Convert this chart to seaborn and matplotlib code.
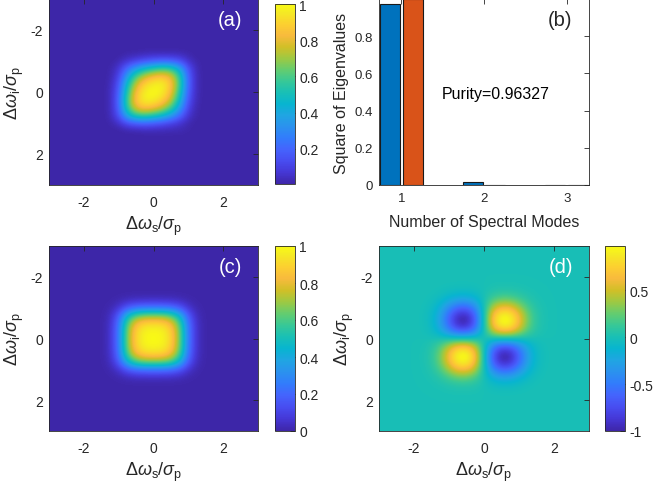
import numpy as np
import pandas as pd
import matplotlib
matplotlib.use('Agg')
import matplotlib.pyplot as plt
from matplotlib.colors import LinearSegmentedColormap
import seaborn as sns

# --- Data ---
# frequency grid (units of sigma_p), 0.25 step
omega = np.arange(-3, 3.001, 0.25)

# (a) joint spectral intensity near the centre, rows = idler -1.25..1.25, cols = signal -1.25..1.25
jsi_a = [
    [.00, .00, .01, .01, .02, .02, .02, .02, .02, .01, .00],
    [.00, .02, .06, .10, .14, .17, .19, .18, .14, .05, .01],
    [.01, .06, .22, .37, .48, .55, .60, .57, .42, .14, .02],
    [.01, .10, .37, .61, .76, .84, .87, .81, .57, .18, .02],
    [.02, .14, .48, .76, .91, .97, .98, .87, .60, .19, .02],
    [.02, .17, .55, .84, .97, 1.0, .97, .84, .55, .17, .02],
    [.02, .19, .60, .87, .98, .97, .91, .76, .48, .14, .02],
    [.02, .18, .57, .81, .87, .84, .76, .61, .37, .10, .01],
    [.02, .14, .42, .57, .60, .55, .48, .37, .22, .06, .01],
    [.01, .05, .14, .18, .19, .17, .14, .10, .06, .02, .00],
    [.00, .00, .01, .01, .02, .02, .02, .02, .02, .01, .00],
]
# (c) separable mode profile, |omega| = 0, 0.25, ... 1.75
mode_c = [1.0, 0.99, 0.91, 0.67, 0.24, 0.04, 0.0, 0.0]
# (d) odd mode profile, omega = 0, 0.25, ... 1.75
mode_d = [0.0, 0.68, 1.0, 0.96, 0.64, 0.27, 0.07, 0.01]

# (b) eigenvalues
modes = [1, 2, 3]
eig_sq = [0.975, 0.018, 0.002]
eig_sq_ref = [1.0, 0.002, 0.001]
purity = 'Purity=0.96327'

# --- build grids ---
grid_a = np.pad(np.array(jsi_a), 7)
mc = np.array(mode_c)
prof_c = np.pad(np.r_[mc[:0:-1], mc], 5)
grid_c = np.outer(prof_c, prof_c)
md = np.array(mode_d)
prof_d = np.pad(np.r_[-md[:0:-1], md], 5)
grid_d = -np.outer(prof_d, prof_d)

# parula (subset of the 64 entry table)
parula_pts = [
    (0, (0.2422, 0.1504, 0.6603)), (4, (0.2706, 0.2147, 0.8364)),
    (8, (0.2813, 0.3006, 0.9414)), (12, (0.2699, 0.3892, 0.9906)),
    (16, (0.1963, 0.4847, 0.9892)), (20, (0.1687, 0.5703, 0.9359)),
    (24, (0.1248, 0.6459, 0.8883)), (28, (0.0297, 0.7082, 0.8163)),
    (32, (0.0964, 0.7500, 0.7120)), (36, (0.2161, 0.7843, 0.5923)),
    (40, (0.3909, 0.8029, 0.4354)), (44, (0.6174, 0.7876, 0.2612)),
    (48, (0.8203, 0.7498, 0.1535)), (52, (0.9728, 0.7298, 0.2394)),
    (56, (0.9892, 0.8136, 0.1885)), (60, (0.9597, 0.9135, 0.1423)),
    (63, (0.9769, 0.9839, 0.0805)),
]
parula = LinearSegmentedColormap.from_list('parula', [(i / 63, c) for i, c in parula_pts], N=256)

# --- style ---
sns.set_style('white')
plt.rcParams['font.family'] = ['Liberation Sans', 'DejaVu Sans']
plt.rcParams['mathtext.fontset'] = 'custom'
plt.rcParams['mathtext.rm'] = 'Liberation Sans'
plt.rcParams['mathtext.it'] = 'Liberation Sans:italic'
plt.rcParams['axes.unicode_minus'] = False
plt.rcParams['font.size'] = 9
edge = '#262626'
txt = '#262626'

W, H = 653, 489
fig = plt.figure(figsize=(W / 100, H / 100), dpi=100)


def px_axes(x0, y0, x1, y1):
    return fig.add_axes([x0 / W, 1 - y1 / H, (x1 - x0) / W, (y1 - y0) / H])


def style_box(ax, size=9, xpad=5):
    for s in ax.spines.values():
        s.set_color(edge)
        s.set_linewidth(0.6)
    ax.tick_params(direction='in', length=3.5, width=0.6, color=edge, top=True, right=True,
                   labelsize=size, labelcolor=txt, pad=4.5)
    ax.tick_params(axis='x', pad=xpad)


xlab = r'$\Delta\omega_\mathrm{s}/\sigma_\mathrm{p}$'
ylab = r'$\Delta\omega_\mathrm{i}/\sigma_\mathrm{p}$'


def heat(box, cbox, grid, vmin, vmax, ticks, labels, tag):
    ax = px_axes(*box)
    step = omega[1] - omega[0]
    ext = (omega[0] - step / 2, omega[-1] + step / 2, omega[-1] + step / 2, omega[0] - step / 2)
    im = ax.imshow(grid, cmap=parula, extent=ext, interpolation='bicubic',
                   interpolation_stage='data', vmin=vmin, vmax=vmax, aspect='auto')
    ax.set_xlim(-3, 3)
    ax.set_ylim(3, -3)
    ax.set_xticks([-2, 0, 2])
    ax.set_yticks([-2, 0, 2])
    ax.set_xlabel(xlab, fontsize=13, labelpad=4, color=txt)
    ax.set_ylabel(ylab, fontsize=13, labelpad=3, color=txt)
    style_box(ax, size=10, xpad=7)
    ax.text(0.866, 0.89, tag, transform=ax.transAxes, color='white', fontsize=14.5,
            ha='center', va='center')
    cax = px_axes(*cbox)
    cb = fig.colorbar(im, cax=cax)
    cb.set_ticks(ticks)
    cb.set_ticklabels(labels)
    cb.outline.set_edgecolor(edge)
    cb.outline.set_linewidth(0.6)
    cax.tick_params(direction='in', length=3.5, width=0.6, color=edge, labelsize=10,
                    labelcolor=txt, pad=3)
    return ax


heat((49, 0, 258, 186), (275, 5, 295, 185), grid_a, 0.005, 1.0,
     [0.2, 0.4, 0.6, 0.8, 1.0], ['0.2', '0.4', '0.6', '0.8', '1'], '(a)')
heat((49, 247, 258, 432), (275, 247, 295, 432), grid_c, 0.0, 1.0,
     [0, 0.2, 0.4, 0.6, 0.8, 1.0], ['0', '0.2', '0.4', '0.6', '0.8', '1'], '(c)')
heat((379, 247, 589, 432), (605, 247, 625, 432), grid_d, -1.0, 0.97,
     [-1, -0.5, 0, 0.5], ['-1', '-0.5', '0', '0.5'], '(d)')

# --- (b) bar chart ---
axb = px_axes(379, 0, 589, 186)
df = pd.DataFrame({
    'mode': modes * 2,
    'value': eig_sq + eig_sq_ref,
    'series': ['eig'] * 3 + ['ref'] * 3,
})
sns.barplot(data=df, x='mode', y='value', hue='series', native_scale=True,
            width=0.55, gap=0.13, palette=['#0072BD', '#D95319'], saturation=1,
            edgecolor='#1a1a1a', linewidth=0.8, errorbar=None, legend=False, ax=axb)
axb.set_xlim(0.73, 3.27)
axb.set_ylim(0, 1.0)
axb.set_xticks([1, 2, 3])
axb.set_xticklabels(['1', '2', '3'])
axb.set_yticks([0, 0.2, 0.4, 0.6, 0.8])
axb.set_yticklabels(['0', '0.2', '0.4', '0.6', '0.8'])
axb.set_xlabel('Number of Spectral Modes', fontsize=11.5, labelpad=7, color=txt)
axb.set_ylabel('Square of Eigenvalues', fontsize=11.5, labelpad=4, color=txt)
style_box(axb, size=9.5, xpad=5)
axb.text(1.49, 0.49, purity, fontsize=11.5, ha='left', va='center', color='black')
axb.text(0.86, 0.89, '(b)', transform=axb.transAxes, fontsize=14.5, ha='center', va='center')

fig.savefig('out.png', dpi=100)
